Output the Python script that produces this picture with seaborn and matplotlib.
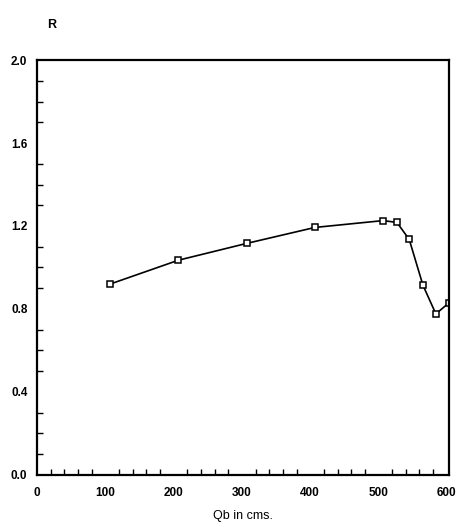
import matplotlib
matplotlib.use("Agg")
import matplotlib.pyplot as plt
import seaborn as sns
import pandas as pd
from matplotlib.ticker import MultipleLocator

# Discharge (cms) and ratio R
qb = [107, 207, 307, 407, 507, 527, 545, 565, 584, 603]
r_vals = [0.92, 1.035, 1.116, 1.193, 1.226, 1.217, 1.135, 0.915, 0.776, 0.829]
x_ticks = [0, 100, 200, 300, 400, 500, 600]
y_ticks = [0.0, 0.4, 0.8, 1.2, 1.6, 2.0]

df = pd.DataFrame({"Qb": qb, "R": r_vals})

sns.set_theme(style="white")
plt.rcParams["font.family"] = ["Liberation Sans", "DejaVu Sans"]
plt.rcParams["text.color"] = "black"
plt.rcParams["axes.labelcolor"] = "black"

fig = plt.figure(figsize=(4.58, 5.27), dpi=100)
ax = fig.add_axes([0.081, 0.099, 0.899, 0.787])

sns.lineplot(data=df, x="Qb", y="R", ax=ax, color="black", linewidth=1.2,
             marker="s", markersize=5, markerfacecolor="white",
             markeredgecolor="black", markeredgewidth=1.1)

ax.set_xlim(0, 603)
ax.set_ylim(0, 2.0)
ax.set_xticks(x_ticks)
ax.set_yticks(y_ticks)
ax.set_xticklabels([str(v) for v in x_ticks], fontsize=8.5, fontweight="bold")
ax.set_yticklabels([f"{v:.1f}" for v in y_ticks], fontsize=8.5, fontweight="bold")
ax.xaxis.set_minor_locator(MultipleLocator(20))
ax.yaxis.set_minor_locator(MultipleLocator(0.1))

ax.tick_params(axis="both", which="major", direction="in", length=8, width=1.1,
               colors="black", top=False, right=False)
ax.tick_params(axis="both", which="minor", direction="in", length=4, width=1.0,
               colors="black", top=False, right=False, bottom=True, left=True)
ax.tick_params(axis="x", which="major", pad=9)
ax.tick_params(axis="y", which="major", pad=7)

for s in ax.spines.values():
    s.set_color("black")
    s.set_linewidth(1.6)
    s.set_visible(True)

ax.set_xlabel("Qb in cms.", fontsize=9, labelpad=8)
ax.set_ylabel("")
fig.text(52 / 458, 1 - 25 / 527, "R", fontsize=9, fontweight="bold",
         color="black", ha="center", va="center")

fig.savefig("out.png", dpi=100, facecolor="white")
